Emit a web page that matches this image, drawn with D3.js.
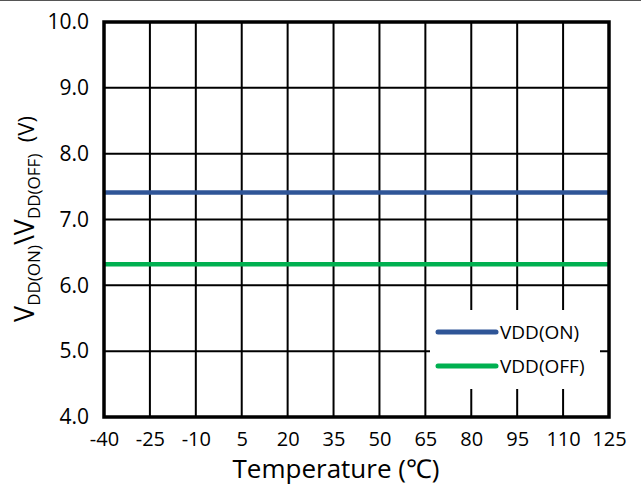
<!DOCTYPE html>
<html>
<head>
<meta charset="utf-8">
<script src="https://cdn.jsdelivr.net/npm/d3@7/dist/d3.min.js"></script>
<style>
  html, body { margin: 0; padding: 0; background: #fff; }
  svg { display: block; font-family: "Open Sans", "Noto Sans", sans-serif; }
</style>
</head>
<body>
<svg id="chart" width="641" height="488"></svg>
<script>
// Supply thresholds versus ambient temperature
const temperatures = [-40, -25, -10, 5, 20, 35, 50, 65, 80, 95, 110, 125];
const vddOn  = [7.41, 7.41, 7.41, 7.41, 7.41, 7.41, 7.41, 7.41, 7.41, 7.41, 7.41, 7.41];
const vddOff = [6.32, 6.32, 6.32, 6.32, 6.32, 6.32, 6.32, 6.32, 6.32, 6.32, 6.32, 6.32];
const yTicks = [4, 5, 6, 7, 8, 9, 10];
const seriesNames = ["VDD(ON)", "VDD(OFF)"];
const seriesColors = ["#2f5597", "#00b050"];

const svg = d3.select("#chart");
const W = 641, H = 488;
const m = { left: 104, right: 609, top: 22, bottom: 417 };

// thin rule along the top edge
svg.append("line")
  .attr("x1", 0).attr("x2", W).attr("y1", 0.5).attr("y2", 0.5)
  .attr("stroke", "#555").attr("stroke-width", 1.2);

const x = d3.scaleLinear().domain([-40, 125]).range([m.left, m.right]);
const y = d3.scaleLinear().domain([4, 10]).range([m.bottom, m.top]);

// grid
const grid = svg.append("g");
grid.selectAll("line.v").data(temperatures.slice(1, -1)).join("line")
  .attr("class", "v")
  .attr("x1", d => x(d)).attr("x2", d => x(d))
  .attr("y1", m.top).attr("y2", m.bottom)
  .attr("stroke", "#000").attr("stroke-width", 2);
grid.selectAll("line.h").data(yTicks.slice(1, -1)).join("line")
  .attr("class", "h")
  .attr("x1", m.left).attr("x2", m.right)
  .attr("y1", d => y(d)).attr("y2", d => y(d))
  .attr("stroke", "#000").attr("stroke-width", 2);

// axes (labels only, frame drawn separately)
const xAxis = d3.axisBottom(x).tickValues(temperatures).tickSize(0).tickPadding(15)
  .tickFormat(d => String(d));
const gx = svg.append("g").attr("transform", `translate(0,${m.bottom})`).call(xAxis);
gx.select(".domain").remove();
gx.selectAll("text").attr("font-size", 20).attr("fill", "#000")
  .attr("font-family", "Open Sans, sans-serif");

const yAxis = d3.axisLeft(y).tickValues(yTicks).tickSize(0).tickPadding(15)
  .tickFormat(d3.format(".1f"));
const gy = svg.append("g").attr("transform", `translate(${m.left},0)`).call(yAxis);
gy.select(".domain").remove();
gy.selectAll("text").attr("font-size", 21).attr("fill", "#000")
  .attr("font-family", "Open Sans, sans-serif");

// series
const line = d3.line().x((d, i) => x(temperatures[i])).y(d => y(d));
[vddOn, vddOff].forEach((s, i) => {
  svg.append("path").datum(s)
    .attr("d", line)
    .attr("fill", "none")
    .attr("stroke", seriesColors[i])
    .attr("stroke-width", 4.5);
});

// legend
const lg = svg.append("g");
lg.append("rect").attr("x", 430).attr("y", 310).attr("width", 170).attr("height", 79)
  .attr("fill", "#fff");
seriesNames.forEach((name, i) => {
  const ly = 332 + i * 34;
  lg.append("line").attr("x1", 438).attr("x2", 496).attr("y1", ly).attr("y2", ly)
    .attr("stroke", seriesColors[i]).attr("stroke-width", 5).attr("stroke-linecap", "round");
  lg.append("text").attr("x", 500).attr("y", ly).attr("dy", "0.36em")
    .attr("font-size", 19).attr("fill", "#000").text(name);
});

// frame
svg.append("rect")
  .attr("x", m.left).attr("y", m.top)
  .attr("width", m.right - m.left).attr("height", m.bottom - m.top)
  .attr("fill", "none").attr("stroke", "#000").attr("stroke-width", 3.5);

// axis titles
svg.append("text")
  .attr("x", 336).attr("y", 478)
  .attr("text-anchor", "middle").attr("font-size", 26).attr("fill", "#000")
  .text("Temperature (℃)");

const yt = svg.append("text")
  .attr("transform", "translate(34,219) rotate(-90)")
  .attr("text-anchor", "middle").attr("fill", "#000");
yt.append("tspan").attr("font-size", 27).text("V");
yt.append("tspan").attr("font-size", 17).attr("baseline-shift", "-6").text("DD(ON)");
yt.append("tspan").attr("font-size", 27).text("\\V");
yt.append("tspan").attr("font-size", 17).attr("baseline-shift", "-6").text("DD(OFF)");
yt.append("tspan").attr("font-size", 22).text("\u00a0\u00a0(V)");
</script>
</body>
</html>
